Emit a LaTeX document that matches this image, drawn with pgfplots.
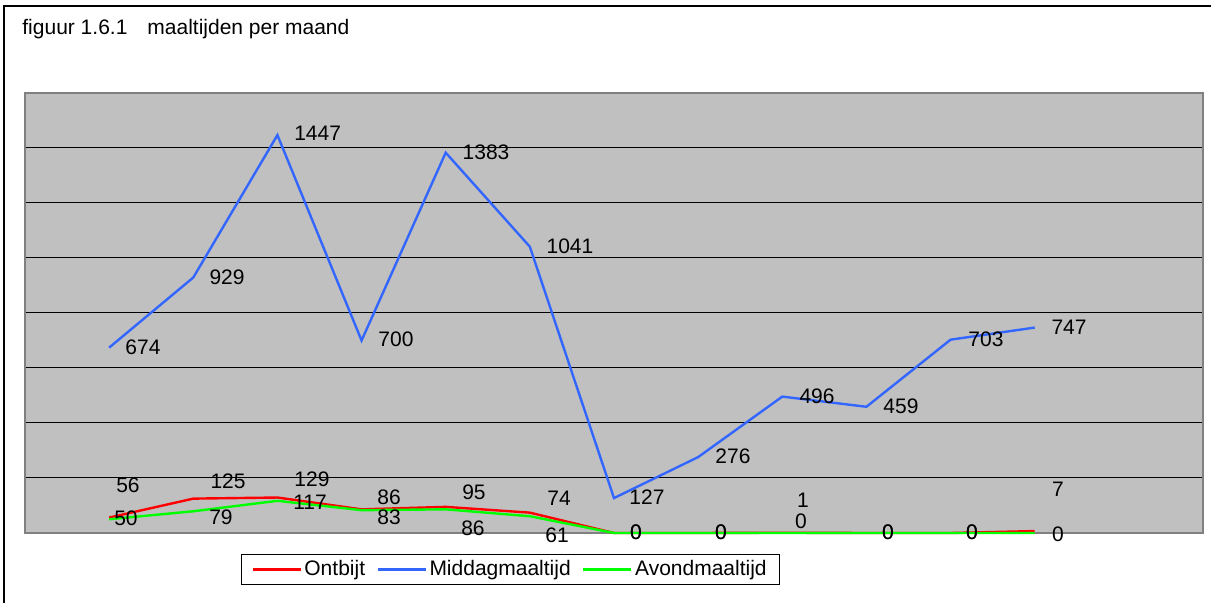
\documentclass[border=0pt]{standalone}
\usepackage{pgfplots}
\pgfplotsset{compat=1.18}
\usepackage{fontspec}
\setmainfont{Liberation Sans}
\definecolor{plotgray}{RGB}{192,192,192}
\definecolor{bordergray}{RGB}{128,128,128}
\definecolor{mblue}{RGB}{51,102,255}
\definecolor{mred}{RGB}{255,0,0}
\definecolor{mgreen}{RGB}{0,255,0}
\newcommand{\lab}[3]{\node[inner sep=0pt, anchor=center] at (axis cs:#1,#2) {#3};}
\begin{document}
\begin{tikzpicture}[font=\fontsize{10.5}{12.6}\selectfont]
\useasboundingbox (0,0) rectangle (605.5pt,-301.5pt);
\draw[line width=0.75pt] (2pt,-310pt) -- (2pt,-3pt) -- (615pt,-3pt);
\node[anchor=base west, inner sep=0pt] at (11pt,-17.5pt) {figuur 1.6.1\hspace{10pt}maaltijden per maand};
\begin{axis}[
  at={(12.5pt,-266.5pt)}, anchor=south west,
  scale only axis, width=589pt, height=220pt,
  xmin=0, xmax=14, ymin=0, ymax=1600,
  xtick=\empty, ytick={200,400,...,1400}, yticklabels={},
  major tick length=0pt,
  ymajorgrids, grid style={black, line width=0.5pt},
  axis background/.style={fill=plotgray},
  axis line style={draw=bordergray, line width=1.25pt},
  clip=false,
  legend columns=3,
  legend image code/.code={\draw[#1] (0pt,0pt) -- (24pt,0pt);},
  legend style={at={(0.412,-0.083)}, anchor=center, draw=black, line width=0.5pt, fill=white,
    inner xsep=5pt, inner ysep=1pt,
    nodes={inner xsep=1.25pt, inner ysep=2pt},
    /tikz/every even column/.append style={column sep=4.5pt},
    font=\fontsize{10.5}{12.6}\selectfont},
]
\addplot[mred, line width=1.2pt] coordinates {(1,56)(2,125)(3,129)(4,86)(5,95)(6,74)(7,0)(8,0)(9,1)(10,0)(11,0)(12,7)};
\addlegendentry{Ontbijt}
\addplot[mblue, line width=1.2pt] coordinates {(1,674)(2,929)(3,1447)(4,700)(5,1383)(6,1041)(7,127)(8,276)(9,496)(10,459)(11,703)(12,747)};
\addlegendentry{Middagmaaltijd}
\addplot[mgreen, line width=1.2pt] coordinates {(1,50)(2,79)(3,117)(4,83)(5,86)(6,61)(7,0)(8,0)(9,0)(10,0)(11,0)(12,0)};
\addlegendentry{Avondmaaltijd}
% Middagmaaltijd labels
\lab{1.402}{676}{674}
\lab{2.401}{931}{929}
\lab{3.478}{1455}{1447}
\lab{4.409}{705}{700}
\lab{5.479}{1385}{1383}
\lab{6.477}{1044}{1041}
\lab{7.392}{131}{127}
\lab{8.414}{280}{276}
\lab{9.413}{498}{496}
\lab{10.411}{462}{459}
\lab{11.421}{705}{703}
\lab{12.408}{749}{747}
% Ontbijt labels
\lab{1.224}{175}{56}
\lab{2.413}{189}{125}
\lab{3.411}{196}{129}
\lab{4.326}{131}{86}
\lab{5.336}{149}{95}
\lab{6.347}{127}{74}
\lab{7.262}{4}{0}
\lab{8.272}{4}{0}
\lab{9.247}{120}{1}
\lab{10.257}{4}{0}
\lab{11.255}{4}{0}
\lab{12.277}{160}{7}
% Avondmaaltijd labels
\lab{1.200}{55}{50}
\lab{2.329}{58}{79}
\lab{3.387}{113}{117}
\lab{4.326}{58}{83}
\lab{5.324}{18}{86}
\lab{6.323}{-7}{61}
\lab{7.262}{4}{0}
\lab{8.272}{4}{0}
\lab{9.223}{44}{0}
\lab{10.257}{4}{0}
\lab{11.255}{4}{0}
\lab{12.277}{-4}{0}
\end{axis}
\end{tikzpicture}
\end{document}
